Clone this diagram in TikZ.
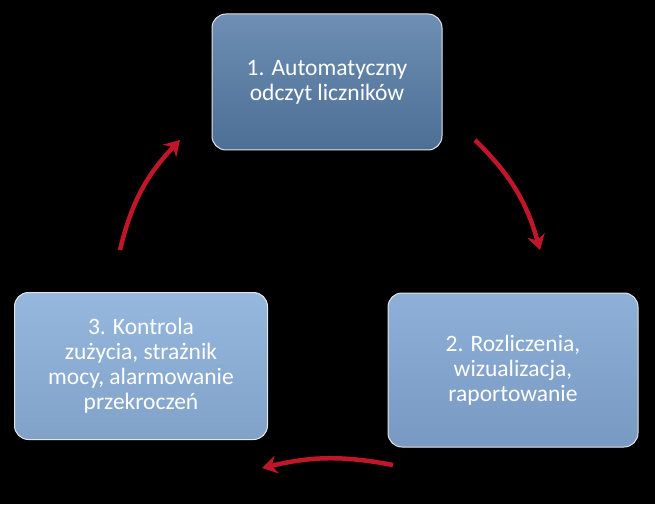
\documentclass[tikz,border=0pt]{standalone}
\usepackage{fontspec}
\setmainfont{Carlito}
\usetikzlibrary{arrows.meta}
\definecolor{boxA}{HTML}{557BA6}
\definecolor{boxB}{HTML}{82A7D3}
\definecolor{boxC}{HTML}{8BB0DA}
\definecolor{arr}{HTML}{C0162A}
\tikzset{
  stepbox/.style={rounded corners=14pt, draw=white!80!gray, line width=1pt, text=white,
    align=center, font=\fontsize{23.5pt}{25pt}\selectfont, inner sep=4pt},
  cyc/.style={arr, line width=4.5pt, -{Stealth[length=15pt,width=18pt,inset=5pt]}}
}
\begin{document}
\begin{tikzpicture}[x=1pt,y=1pt]
\fill[black] (0,0) rectangle (655,504);
\useasboundingbox (0,0) rectangle (655,504);
\node[stepbox, top color=boxA!85!white, bottom color=boxA!90!black, minimum width=230pt, minimum height=136pt] (a) at (327,422) {1. Automatyczny\\odczyt liczników};
\node[stepbox, top color=boxB!90!white, bottom color=boxB!92!black, minimum width=250pt, minimum height=154pt] (b) at (513,134) {2. Rozliczenia,\\wizualizacja,\\raportowanie};
\node[stepbox, top color=boxC!90!white, bottom color=boxC!92!black, minimum width=253pt, minimum height=147pt] (c) at (141,138) {3. Kontrola\\zużycia, strażnik\\mocy, alarmowanie\\przekroczeń};
\coordinate (a1) at (475,364);
\coordinate (a2) at (540,254);
\coordinate (b1) at (393,39);
\coordinate (b2) at (262,36);
\coordinate (c1) at (120,254);
\coordinate (c2) at (180,364);
\draw[cyc] (a1) to[bend left=15] (a2);
\draw[cyc] (b1) to[bend right=12] (b2);
\draw[cyc] (c1) to[bend left=15] (c2);
\end{tikzpicture}
\end{document}
